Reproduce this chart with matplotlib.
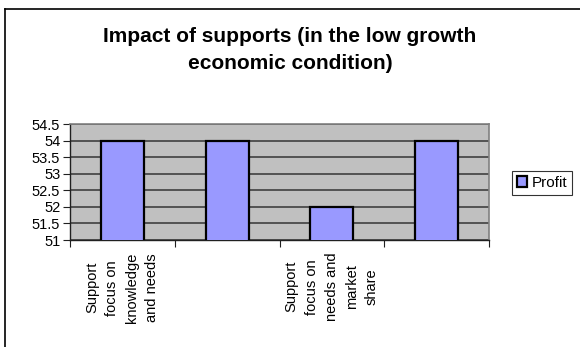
import matplotlib
matplotlib.use("Agg")
import matplotlib.pyplot as plt
from matplotlib.lines import Line2D
import numpy as np

plt.rcParams['font.family'] = ['Liberation Sans', 'DejaVu Sans']

# Data
categories = [
    "Support\nfocus on\nknowledge\nand needs",
    "",
    "Support\nfocus on\nneeds and\nmarket\nshare",
    "",
]
profit = [54, 54, 52, 54]
series_name = "Profit"
title = "Impact of supports (in the low growth\neconomic condition)"
y_min, y_max, y_step = 51, 54.5, 0.5

W, H = 580, 347
fig = plt.figure(figsize=(W / 100, H / 100), dpi=100)
fig.patch.set_facecolor("white")

# chart-area frame (top and left edges visible)
fig.add_artist(Line2D([4.5 / W, 4.5 / W], [-0.1, 1 - 9 / H], transform=fig.transFigure,
                      color="black", lw=1.2))
fig.add_artist(Line2D([4.5 / W, 1.1], [1 - 9 / H, 1 - 9 / H], transform=fig.transFigure,
                      color="black", lw=1.2))

left, right, top, bottom = 70, 489, 124, 240
ax = fig.add_axes([left / W, 1 - bottom / H, (right - left) / W, (bottom - top) / H])
ax.set_facecolor("#C0C0C0")

x = np.arange(len(categories))
ax.set_axisbelow(True)
ax.bar(x, profit, width=0.41, bottom=0, color="#9999FF", edgecolor="black",
       linewidth=1.6, label=series_name, zorder=3)

ax.set_xlim(-0.5, len(categories) - 0.5)
ax.set_ylim(y_min, y_max)
yt = np.arange(y_min, y_max + 1e-9, y_step)
ax.set_yticks(yt)
ax.set_yticklabels([f"{v:g}" for v in yt], fontsize=10.5)
ax.yaxis.grid(True, color="#404040", linewidth=1.2)
ax.tick_params(axis="y", direction="out", length=5, width=0.8, color="#202020", pad=2)

# category boundary ticks and centred labels
ax.set_xticks(np.arange(-0.5, len(categories)), minor=True)
ax.tick_params(axis="x", which="minor", direction="out", length=5, width=0.8, color="#202020")
ax.set_xticks(x)
ax.set_xticklabels(categories, rotation=90, fontsize=10.5, va="top", ha="center",
                   multialignment="center", linespacing=1.55)
ax.tick_params(axis="x", which="major", length=0, pad=9)

for s in ["top", "right"]:
    ax.spines[s].set_color("#808080")
    ax.spines[s].set_linewidth(1.2)
ax.spines["left"].set_color("#202020")
ax.spines["bottom"].set_color("#202020")
ax.spines["left"].set_linewidth(1.0)
ax.spines["bottom"].set_linewidth(1.0)

fig.text(0.5, 1 - 50 / H, title, ha="center", va="center", fontsize=15,
         fontweight="bold", linespacing=1.5)

leg = fig.legend(loc="center left", bbox_to_anchor=(512 / W, 1 - 183 / H),
                 fontsize=11, frameon=True, fancybox=False, handlelength=0.7,
                 handleheight=0.7, handletextpad=0.3, borderpad=0.3,
                 borderaxespad=0)
leg.get_frame().set_edgecolor("black")
leg.get_frame().set_linewidth(0.8)

fig.savefig("out.png", dpi=100)
